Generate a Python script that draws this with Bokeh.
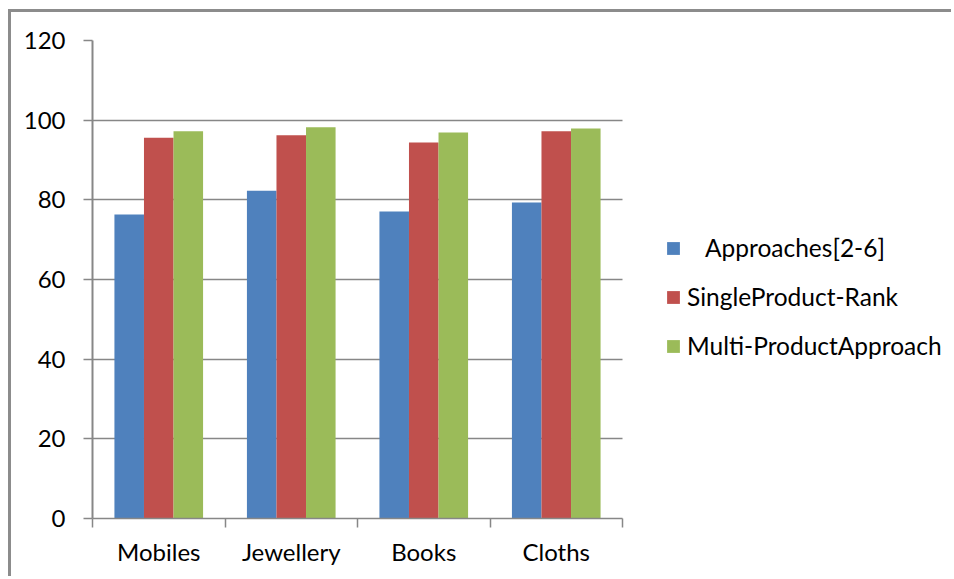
from bokeh.plotting import figure
from bokeh.models import ColumnDataSource, FixedTicker, Legend, LegendItem, Range1d
from bokeh.embed import file_html
from bokeh.resources import INLINE

categories = ["Mobiles", "Jewellery", "Books", "Cloths"]
series_names = ["\u00a0\u00a0\u00a0Approaches[2-6]", "SingleProduct-Rank", "Multi-ProductApproach"]
approaches = [76.3, 82.3, 77.1, 79.3]
single_rank = [95.6, 96.2, 94.4, 97.2]
multi_product = [97.2, 98.2, 96.9, 97.9]
colors = ["#4F81BD", "#C0504D", "#9BBB59"]
y_ticks = [0, 20, 40, 60, 80, 100, 120]

FONT = "Lato"
GRAY = "#878787"

N = len(categories)
plot_w = 530          # pixel width of the bar area
frame_w = 862         # frame extends under the legend
x_end = N * frame_w / plot_w

p = figure(width=943, height=567, output_backend="svg", toolbar_location=None,
           x_range=Range1d(0, x_end), y_range=Range1d(0, 120),
           min_border_left=81, min_border_right=0, min_border_top=28, min_border_bottom=61)
p.styles = {"margin-left": "8px", "margin-top": "9px",
            "border-top": "3px solid #8c8c8c", "border-left": "3px solid #8c8c8c"}
p.outline_line_color = None
p.background_fill_color = "white"
p.border_fill_color = "white"

centers = [i + 0.5 for i in range(N)]
bw = 0.223
offsets = [-bw, 0, bw]
items = []
for vals, name, col, off in zip([approaches, single_rank, multi_product], series_names, colors, offsets):
    src = ColumnDataSource(dict(x=[c + off for c in centers], top=vals))
    r = p.vbar(x="x", top="top", width=bw, bottom=0, source=src, fill_color=col, line_color=None)
    items.append(LegendItem(label=name, renderers=[r]))

# x axis
p.xaxis.ticker = FixedTicker(ticks=centers, minor_ticks=list(range(N + 1)))
p.xaxis.bounds = (0, N)
p.xaxis.major_label_overrides = {c: lab for c, lab in zip(centers, categories)}
p.xaxis.major_tick_line_color = None
p.xaxis.minor_tick_line_color = GRAY
p.xaxis.minor_tick_line_width = 1.5
p.xaxis.minor_tick_out = 9
p.xaxis.minor_tick_in = 0
p.xaxis.axis_line_color = GRAY
p.xaxis.axis_line_width = 1.5
p.xaxis.major_label_text_font = FONT
p.xaxis.major_label_text_font_size = "24px"
p.xaxis.major_label_text_color = "black"
p.xaxis.major_label_standoff = 9
p.xgrid.grid_line_color = None

# y axis
p.yaxis.ticker = FixedTicker(ticks=y_ticks)
p.yaxis.major_tick_line_color = GRAY
p.yaxis.major_tick_line_width = 1.5
p.yaxis.major_tick_out = 9
p.yaxis.major_tick_in = 0
p.yaxis.minor_tick_line_color = None
p.yaxis.axis_line_color = GRAY
p.yaxis.axis_line_width = 2
p.yaxis.major_label_text_font = FONT
p.yaxis.major_label_text_font_size = "24px"
p.yaxis.major_label_text_color = "black"
p.yaxis.major_label_standoff = 18
p.ygrid.grid_line_color = GRAY
p.ygrid.grid_line_width = 1.5
p.ygrid.cross_bounds = (0, N)

legend = Legend(items=items, location=(573, 158), orientation="vertical",
                glyph_width=16, glyph_height=16, label_standoff=6, spacing=20,
                padding=0, margin=0, border_line_color=None, background_fill_alpha=0,
                label_text_font=FONT, label_text_font_size="24.5px", label_text_color="black",
                label_height=28)
p.add_layout(legend, "center")

open("out.html", "w").write(file_html(p, INLINE))
